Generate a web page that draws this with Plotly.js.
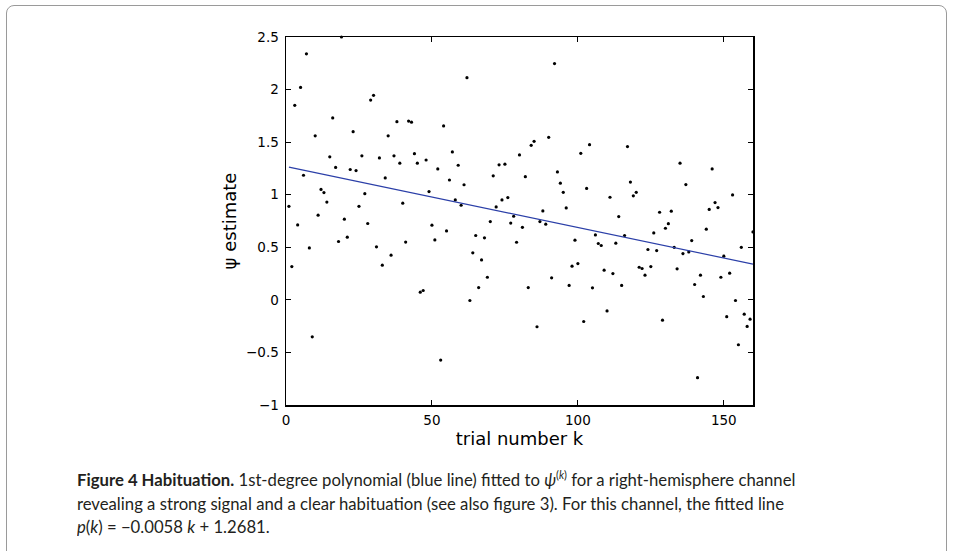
<!DOCTYPE html>
<html>
<head>
<meta charset="utf-8">
<script src="https://cdn.plot.ly/plotly-3.0.1.min.js"></script>
<style>
  html, body { margin: 0; padding: 0; background: #ffffff; }
  #wrap { position: relative; width: 954px; height: 551px; overflow: hidden; background: #fff; }
  #chart { position: absolute; left: 0; top: 0; width: 954px; height: 551px; }
  #frame { position: absolute; left: 6px; top: 5px; width: 941px; height: 600px;
           border: 1px solid #9a9a9a; border-radius: 8px 8px 0 0; box-sizing: border-box; }
  .ln { position: absolute; left: 77px; white-space: nowrap; transform-origin: 0 0;
        font-family: Lato, "Open Sans", sans-serif; font-size: 17px; line-height: 23.5px; color: #231f20; }
  .ln b { font-weight: 700; }
  .ln sup { font-size: 11px; vertical-align: 7px; line-height: 0; }
</style>
</head>
<body>
<div id="wrap">
  <div id="frame"></div>
  <div id="chart"></div>
  <div class="ln" id="cap1" style="top:468px"><b>Figure 4 Habituation.</b> 1st-degree polynomial (blue line) fitted to <i>ψ</i><sup>(<i>k</i>)</sup> for a right-hemisphere channel</div>
  <div class="ln" id="cap2" style="top:491.5px">revealing a strong signal and a clear habituation (see also figure 3). For this channel, the fitted line</div>
  <div class="ln" id="cap3" style="top:515px"><i>p</i>(<i>k</i>) = −0.0058 <i>k</i> + 1.2681.</div>
</div>
<script>
// trial numbers
const trialK = [
  1,2,3,4,5,6,7,8,9,10,11,12,13,14,15,16,17,18,19,20,
  21,22,23,24,25,26,27,28,29,30,31,32,33,34,35,36,37,38,39,40,
  41,42,43,44,45,46,47,48,49,50,51,52,53,54,55,56,57,58,59,60,
  61,62,63,64,65,66,67,68,69,70,71,72,73,74,75,76,77,78,79,80,
  81,82,83,84,85,86,87,88,89,90,91,92,93,94,95,96,97,98,99,100,
  101,102,103,104,105,106,107,108,109,110,111,112,113,114,115,116,117,118,119,120,
  121,122,123,124,125,126,127,128,129,130,131,132,133,134,135,136,137,138,139,140,
  141,142,143,144,145,146,147,148,149,150,151,152,153,154,155,156,157,158,159,160
];
// psi estimates
const psiEstimate = [
  0.89,0.317,1.85,0.713,2.02,1.185,2.34,0.494,-0.352,1.56,
  0.805,1.05,1.02,0.93,1.36,1.73,1.26,0.555,2.50,0.767,
  0.596,1.24,1.60,1.23,0.89,1.37,1.01,0.726,1.90,1.945,
  0.504,1.35,0.33,1.16,1.56,0.425,1.37,1.695,1.30,0.92,
  0.55,1.70,1.69,1.39,1.30,0.073,0.089,1.33,1.03,0.71,
  0.57,1.245,-0.573,1.654,0.656,1.14,1.407,0.95,1.28,0.90,
  1.095,2.113,-0.006,0.447,0.612,0.117,0.38,0.59,0.215,0.745,
  1.18,0.884,1.284,0.95,1.29,0.973,0.73,0.795,0.548,1.378,
  0.69,1.172,0.117,1.47,1.508,-0.256,0.745,0.846,0.72,1.546,
  0.21,2.247,1.217,1.11,1.023,0.874,0.137,0.32,0.568,0.345,
  1.394,-0.206,1.06,1.476,0.114,0.618,0.536,0.517,0.282,-0.105,
  0.976,0.25,0.539,0.792,0.137,0.612,1.458,1.12,0.989,1.023,
  0.31,0.298,0.235,0.479,0.317,0.637,0.469,0.833,-0.193,0.681,
  0.725,0.843,0.5,0.295,1.30,0.44,1.096,0.456,0.564,0.146,
  -0.74,0.235,0.032,0.672,0.86,1.245,0.925,0.878,0.215,0.415,
  -0.16,0.254,0.998,-0.006,-0.427,0.5,-0.136,-0.253,-0.184,0.646
];
// fitted line end points
const fitK = [1, 160];
const fitPsi = [1.262, 0.340];
// tick labels
const xTicks = [0, 50, 100, 150];
const yTicks = [-1, -0.5, 0, 0.5, 1, 1.5, 2, 2.5];
const yTickText = ['−1', '−0.5', '0', '0.5', '1', '1.5', '2', '2.5'];
const xTitle = 'trial number k';
const yTitle = 'ψ estimate';

const tickFont = {family: '"DejaVu Sans", "Liberation Sans", sans-serif', size: 13.5, color: '#000'};
const titleFont = {family: '"DejaVu Sans", "Liberation Sans", sans-serif', size: 18, color: '#000'};

const traces = [
  {x: trialK, y: psiEstimate, type: 'scatter', mode: 'markers',
   marker: {color: '#000', size: 3.2}, hoverinfo: 'skip', cliponaxis: false},
  {x: fitK, y: fitPsi, type: 'scatter', mode: 'lines',
   line: {color: '#2b3fa8', width: 1.2}, hoverinfo: 'skip'}
];

const axisCommon = {
  showline: true, linecolor: '#000', linewidth: 1.5, mirror: 'ticks',
  ticks: 'inside', ticklen: 5, tickwidth: 1, tickcolor: '#000',
  showgrid: false, zeroline: false, tickfont: tickFont, automargin: false
};

const layout = {
  width: 954, height: 551,
  margin: {l: 286, r: 201, t: 37, b: 146, pad: 0},
  paper_bgcolor: 'rgba(0,0,0,0)', plot_bgcolor: '#fff',
  showlegend: false,
  xaxis: Object.assign({}, axisCommon, {
    range: [0, 160], tickmode: 'array', tickvals: xTicks, ticktext: xTicks.map(String),
    ticklabelstandoff: 2,
    title: {text: xTitle, font: titleFont, standoff: 0}
  }),
  yaxis: Object.assign({}, axisCommon, {
    range: [-1, 2.5], tickmode: 'array', tickvals: yTicks, ticktext: yTickText,
    ticklabelstandoff: 3,
    title: {text: yTitle, font: titleFont, standoff: 4}
  })
};

Plotly.newPlot('chart', traces, layout, {staticPlot: true, displayModeBar: false});

// one common horizontal scale for the caption, set from the width of its plain second line
const captionRefWidth = 707;
function fitCaption() {
  const ids = ['cap1', 'cap2', 'cap3'];
  ids.forEach(function (id) { document.getElementById(id).style.transform = 'none'; });
  const w = document.getElementById('cap2').getBoundingClientRect().width;
  if (w > 0) {
    const s = captionRefWidth / w;
    ids.forEach(function (id) { document.getElementById(id).style.transform = 'scaleX(' + s + ')'; });
  }
}
if (document.fonts && document.fonts.ready) { document.fonts.ready.then(fitCaption); }
fitCaption();
</script>
</body>
</html>
